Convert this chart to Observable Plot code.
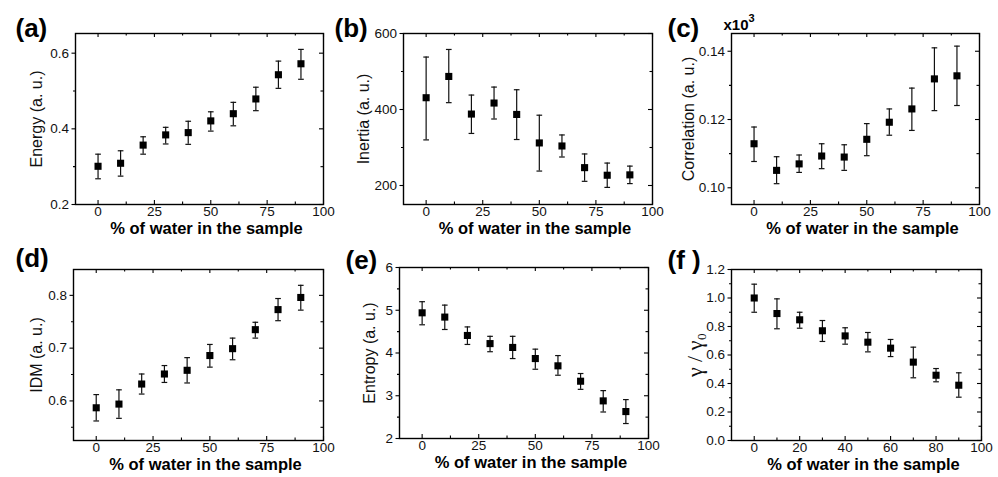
<!DOCTYPE html>
<html>
<head>
<meta charset="utf-8">
<script src="https://cdn.jsdelivr.net/npm/d3@7"></script>
<script src="https://cdn.jsdelivr.net/npm/@observablehq/plot@0.6"></script>
<style>
  html, body { margin: 0; padding: 0; background: #fff; }
  #fig { position: relative; width: 998px; height: 477px; overflow: hidden; }
  #fig svg { position: absolute; overflow: visible; background: transparent; }
</style>
</head>
<body>
<div id="fig"></div>
<script>
// ---- data ----
const water = [0, 10, 20, 30, 40, 50, 60, 70, 80, 90];

const energy   = [0.301, 0.309, 0.357, 0.384, 0.390, 0.421, 0.440, 0.479, 0.543, 0.572];
const energyLo = [0.268, 0.275, 0.333, 0.360, 0.359, 0.394, 0.408, 0.448, 0.507, 0.531];
const energyHi = [0.333, 0.342, 0.379, 0.404, 0.420, 0.445, 0.470, 0.510, 0.579, 0.610];

const inertia   = [431, 487, 388, 417, 387, 312, 304, 247, 227, 228];
const inertiaLo = [320, 418, 337, 375, 321, 238, 275, 211, 195, 205];
const inertiaHi = [538, 558, 438, 459, 452, 385, 333, 283, 259, 251];

const correlation   = [0.1129, 0.1051, 0.1070, 0.1093, 0.1090, 0.1142, 0.1192, 0.1231, 0.1319, 0.1328];
const correlationLo = [0.1077, 0.1012, 0.1045, 0.1056, 0.1051, 0.1094, 0.1154, 0.1168, 0.1226, 0.1241];
const correlationHi = [0.1178, 0.1091, 0.1096, 0.1129, 0.1126, 0.1188, 0.1231, 0.1292, 0.1410, 0.1415];

const idm   = [0.587, 0.594, 0.632, 0.651, 0.658, 0.686, 0.699, 0.735, 0.773, 0.796];
const idmLo = [0.562, 0.567, 0.613, 0.635, 0.634, 0.664, 0.678, 0.719, 0.752, 0.772];
const idmHi = [0.612, 0.621, 0.651, 0.667, 0.682, 0.707, 0.719, 0.749, 0.794, 0.819];

const entropy   = [4.94, 4.84, 4.41, 4.22, 4.13, 3.87, 3.70, 3.34, 2.88, 2.63];
const entropyLo = [4.66, 4.55, 4.20, 4.03, 3.87, 3.62, 3.48, 3.15, 2.62, 2.35];
const entropyHi = [5.20, 5.12, 4.61, 4.39, 4.39, 4.09, 3.94, 3.52, 3.12, 2.91];

const gamma   = [1.000, 0.891, 0.847, 0.770, 0.734, 0.690, 0.648, 0.550, 0.458, 0.388];
const gammaLo = [0.900, 0.784, 0.788, 0.695, 0.676, 0.622, 0.589, 0.440, 0.412, 0.304];
const gammaHi = [1.097, 0.994, 0.900, 0.842, 0.791, 0.758, 0.709, 0.655, 0.505, 0.475];

// tick labels
const xTicks25 = [0, 25, 50, 75, 100];
const xMinor25 = [12.5, 37.5, 62.5, 87.5];
const xTicks20 = [0, 20, 40, 60, 80, 100];
const xMinor20 = [10, 30, 50, 70, 90];

const yTicksA = [0.2, 0.4, 0.6],        yMinorA = [0.3, 0.5];
const yTicksB = [200, 400, 600],        yMinorB = [300, 500];
const yTicksC = [0.10, 0.12, 0.14],     yMinorC = [0.11, 0.13];
const yTicksD = [0.6, 0.7, 0.8],        yMinorD = [0.55, 0.65, 0.75];
const yTicksE = [2, 3, 4, 5, 6],        yMinorE = [2.5, 3.5, 4.5, 5.5];
const yTicksF = [0, 0.2, 0.4, 0.6, 0.8, 1.0, 1.2], yMinorF = [0.1, 0.3, 0.5, 0.7, 0.9, 1.1];

const xLabel = "% of water in the sample";

// ---- panel builder ----
const capSymbol = {
  draw(context, size) {
    const w = Math.sqrt(size) / 2;
    context.moveTo(-w, 0);
    context.lineTo(w, 0);
  }
};

function panel(o) {
  const rows = water.map((w, i) => ({x: w, y: o.values[i], lo: o.lo[i], hi: o.hi[i]}));
  const innerW = o.width - o.mL - o.mR;
  const innerH = o.height - o.mT - o.mB;
  const marks = [
    Plot.frame({stroke: "#000", strokeWidth: 1.4}),
    // inward ticks bottom / top
    Plot.tickX(o.xTicks, {x: d => d, insetTop: innerH - 4, stroke: "#000", strokeWidth: 1.1}),
    Plot.tickX(o.xMinor, {x: d => d, insetTop: innerH - 2.5, stroke: "#000", strokeWidth: 1.1}),
    Plot.tickX(o.xTicks, {x: d => d, insetBottom: innerH - 4, stroke: "#000", strokeWidth: 1.1}),
    Plot.tickX(o.xMinor, {x: d => d, insetBottom: innerH - 2.5, stroke: "#000", strokeWidth: 1.1}),
    // inward ticks right
    Plot.tickY(o.yTicks, {y: d => d, insetLeft: innerW - 4, stroke: "#000", strokeWidth: 1.1}),
    Plot.tickY(o.yMinor, {y: d => d, insetLeft: innerW - 2.5, stroke: "#000", strokeWidth: 1.1}),
    // left axis (outward ticks)
    Plot.axisY({ticks: o.yTicks, tickSize: 3.5, tickPadding: 3, tickFormat: o.yFormat,
                fontSize: 13.5, label: null, stroke: "#000", fill: "#111", strokeWidth: 1.1}),
    Plot.axisY(o.yMinor, {tickSize: 2, tickFormat: () => "", label: null, stroke: "#000", strokeWidth: 1.1}),
    // bottom labels
    Plot.axisX({ticks: o.xTicks, tickSize: 0, tickPadding: 2, tickFormat: d3.format("d"),
                fontSize: 13.5, label: null, fill: "#111"}),
    // error bars
    Plot.ruleX(rows, {x: "x", y1: "lo", y2: "hi", stroke: "#111", strokeWidth: 1.2}),
    Plot.dot(rows, {x: "x", y: "lo", symbol: capSymbol, r: 3.2, stroke: "#111", strokeWidth: 1.2, fill: "none"}),
    Plot.dot(rows, {x: "x", y: "hi", symbol: capSymbol, r: 3.2, stroke: "#111", strokeWidth: 1.2, fill: "none"}),
    // markers
    Plot.dot(rows, {x: "x", y: "y", symbol: "square", r: 4, fill: "#000", stroke: "none"}),
    // x label
    Plot.text([xLabel], {frameAnchor: "bottom", dx: 7, dy: 29, fontSize: 16.5, fontWeight: "bold",
                         fill: "#000", lineAnchor: "bottom"}),
    // y label
    Plot.text([o.ylabel], {frameAnchor: "left", dx: o.yLabelDx, rotate: -90, fontSize: o.yLabelSize || 16,
                           fontFamily: o.yLabelFont || null, fill: "#111", lineAnchor: "middle",
                           textAnchor: "middle"}),
    // panel tag
    Plot.text([o.tag], {frameAnchor: "top-left", textAnchor: "start", dx: o.tagDx, dy: o.tagDy,
                        fontSize: 26, fontWeight: "bold", fill: "#000", lineAnchor: "middle"})
  ];
  if (o.extra) marks.push(...o.extra);
  const svg = Plot.plot({
    width: o.width, height: o.height,
    marginLeft: o.mL, marginRight: o.mR, marginTop: o.mT, marginBottom: o.mB,
    x: {domain: [-10, 100]},
    y: {domain: o.yDomain},
    style: {fontFamily: "'Liberation Sans', Arial, sans-serif", background: "transparent", color: "#000"},
    marks
  });
  svg.style.left = o.left + "px";
  svg.style.top = o.top + "px";
  document.getElementById("fig").appendChild(svg);
}

panel({left: 0, top: 0, width: 330, height: 238, mL: 75, mR: 7, mT: 33, mB: 34,
  values: energy, lo: energyLo, hi: energyHi, yDomain: [0.2, 0.652],
  yTicks: yTicksA, yMinor: yMinorA, yFormat: d3.format(".1f"),
  xTicks: xTicks25, xMinor: xMinor25,
  ylabel: "Energy (a. u.)", yLabelDx: -39, tag: "(a)", tagDx: -60, tagDy: -5});

panel({left: 330, top: 0, width: 330, height: 238, mL: 73, mR: 8, mT: 33, mB: 34,
  values: inertia, lo: inertiaLo, hi: inertiaHi, yDomain: [150, 600],
  yTicks: yTicksB, yMinor: yMinorB, yFormat: d3.format("d"),
  xTicks: xTicks25, xMinor: xMinor25,
  ylabel: "Inertia (a. u.)", yLabelDx: -40, tag: "(b)", tagDx: -69, tagDy: -5});

panel({left: 660, top: 0, width: 338, height: 238, mL: 71, mR: 19, mT: 33, mB: 34,
  values: correlation, lo: correlationLo, hi: correlationHi, yDomain: [0.0951, 0.1452],
  yTicks: yTicksC, yMinor: yMinorC, yFormat: d3.format(".2f"),
  xTicks: xTicks25, xMinor: xMinor25,
  ylabel: "Correlation (a. u.)", yLabelDx: -43, tag: "(c)", tagDx: -64, tagDy: -5,
  extra: [
    Plot.text(["x10"], {frameAnchor: "top-left", textAnchor: "start", dx: -8, dy: -4,
                        lineAnchor: "bottom", fontSize: 15, fontWeight: "bold", fill: "#000"}),
    Plot.text(["3"], {frameAnchor: "top-left", textAnchor: "start", dx: 17, dy: -12,
                      lineAnchor: "bottom", fontSize: 11, fontWeight: "bold", fill: "#000"})
  ]});

panel({left: 0, top: 238, width: 330, height: 239, mL: 73, mR: 7, mT: 31, mB: 37,
  values: idm, lo: idmLo, hi: idmHi, yDomain: [0.525, 0.849],
  yTicks: yTicksD, yMinor: yMinorD, yFormat: d3.format(".1f"),
  xTicks: xTicks25, xMinor: xMinor25,
  ylabel: "IDM (a. u.)", yLabelDx: -37, tag: "(d)", tagDx: -58, tagDy: -11});

panel({left: 330, top: 238, width: 330, height: 239, mL: 69, mR: 12, mT: 29, mB: 39,
  values: entropy, lo: entropyLo, hi: entropyHi, yDomain: [2, 6],
  yTicks: yTicksE, yMinor: yMinorE, yFormat: d3.format("d"),
  xTicks: xTicks25, xMinor: xMinor25,
  ylabel: "Entropy (a. u.)", yLabelDx: -30, tag: "(e)", tagDx: -54, tagDy: -7});

panel({left: 660, top: 238, width: 338, height: 239, mL: 71, mR: 17, mT: 31, mB: 37,
  values: gamma, lo: gammaLo, hi: gammaHi, yDomain: [0, 1.2],
  yTicks: yTicksF, yMinor: yMinorF, yFormat: d3.format(".1f"),
  xTicks: xTicks20, xMinor: xMinor20,
  ylabel: "\u03B3 / \u03B3\u2080", yLabelDx: -37, yLabelSize: 22, yLabelFont: "'Liberation Serif', 'DejaVu Serif', serif",
  tag: "(f )", tagDx: -64, tagDy: -9});
</script>
</body>
</html>
